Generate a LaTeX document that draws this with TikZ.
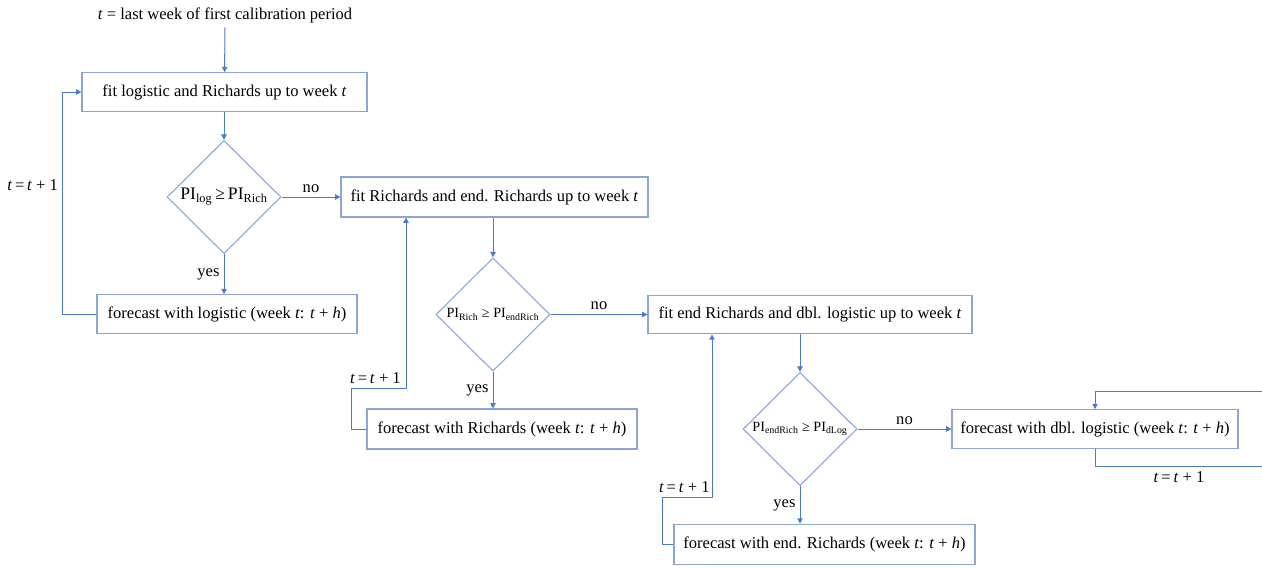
\documentclass[tikz,border=0pt]{standalone}
\usepackage{fontspec}
\setmainfont{Liberation Serif}
\usetikzlibrary{arrows.meta,shapes.geometric}
\definecolor{linecol}{HTML}{4A7BCB}
\definecolor{boxcol}{HTML}{8BA5D8}

\begin{document}
\begin{tikzpicture}[x=0.75pt, y=-0.75pt,
  font=\fontsize{12.4}{14}\selectfont,
  box/.style = {draw=boxcol, line width=0.8pt, minimum height=29pt, inner sep=0pt},
  dec/.style = {draw=boxcol, diamond, line width=0.8pt, minimum width=85.5pt,
                minimum height=85pt, inner sep=0pt},
  small/.style = {font=\fontsize{10.6}{12}\selectfont},
  arr/.style = {-{Triangle[length=4pt,width=4pt]}, linecol, line width=0.75pt},
  lbl/.style = {text=black, inner sep=3pt}]
\newcommand{\PIsub}[1]{PI\textsubscript{#1}}
\newcommand{\tinc}{\textit{t}\,=\,\textit{t} + 1}
\useasboundingbox (0,0) rectangle (1262,567);

\node (start) at (225,15) {\textit{t} = last week of first calibration period};
\node[box, minimum width=213.75pt] (b1) at (224.5,92)
  {fit logistic and Richards up to week \textit{t}};
\node[dec, font=\fontsize{13.2}{15}\selectfont] (d1) at (224,197)
  {\makebox[0pt]{\PIsub{log}\,≥\,\PIsub{Rich}}};
\node[box, minimum width=230.25pt, minimum height=30pt] (b2) at (494.5,197)
  {fit Richards and end. Richards up to week \textit{t}};
\node[box, minimum width=195pt] (b3) at (227,314)
  {forecast with logistic (week \textit{t}: \textit{t} + \textit{h})};

\node[dec, small] (d2) at (493,314.5) {\makebox[0pt]{\PIsub{Rich} ≥ \PIsub{endRich}}};
\node[box, minimum width=243pt] (b4) at (810,314.5)
  {fit end Richards and dbl. logistic up to week \textit{t}};
\node[box, minimum width=202.5pt, minimum height=30pt] (b5) at (502,429)
  {forecast with Richards (week \textit{t}: \textit{t} + \textit{h})};

\node[dec, small] (d3) at (800,429) {\makebox[0pt]{\PIsub{endRich} ≥ \PIsub{dLog}}};
\node[box, minimum width=214.5pt] (b6) at (1095,429)
  {forecast with dbl. logistic (week \textit{t}: \textit{t} + \textit{h})};
\node[box, minimum width=225.75pt, minimum height=30.5pt] (b7) at (824.5,544.5)
  {forecast with end. Richards (week \textit{t}: \textit{t} + \textit{h})};

\coordinate (k2) at (406,388);
\coordinate (k3) at (712,497);

\draw[arr] (start) -- (b1);
\draw[arr] (b1.south -| d1) -- (d1.north);
\draw[arr] (d1.east) -- node[lbl, above] {no} (b2.west);
\draw[arr] (d1.south) -- node[lbl, left] {yes} (d1.south |- b3.north);
\draw[arr] (b3.west) -- ++(-34,0) |- node[lbl, left, pos=0.29] {\tinc} (b1.west);

\draw[arr] (b2.south -| d2) -- (d2.north);
\draw[arr] (d2.east) -- node[lbl, above] {no} (b4.west);
\draw[arr] (d2.south) -- node[lbl, left] {yes} (d2.south |- b5.north);
\draw[arr] (b5.west) -- ++(-15,0) |- node[lbl, above, pos=0.72] {\tinc} (k2)
  -- (k2 |- b2.south);

\draw[arr] (b4.south -| d3) -- (d3.north);
\draw[arr] (d3.east) -- node[lbl, above] {no} (b6.west);
\draw[arr] (d3.south) -- node[lbl, left] {yes} (d3.south |- b7.north);
\draw[arr] (b7.west) -- ++(-11,0) |- node[lbl, above, pos=0.72] {\tinc} (k3)
  -- (k3 |- b4.south);

\draw[arr] (b6.south) -- ++(0,18) -| node[lbl, below, pos=0.25] {\tinc} ++(168,-75)
  -| (b6.north);
\end{tikzpicture}
\end{document}
